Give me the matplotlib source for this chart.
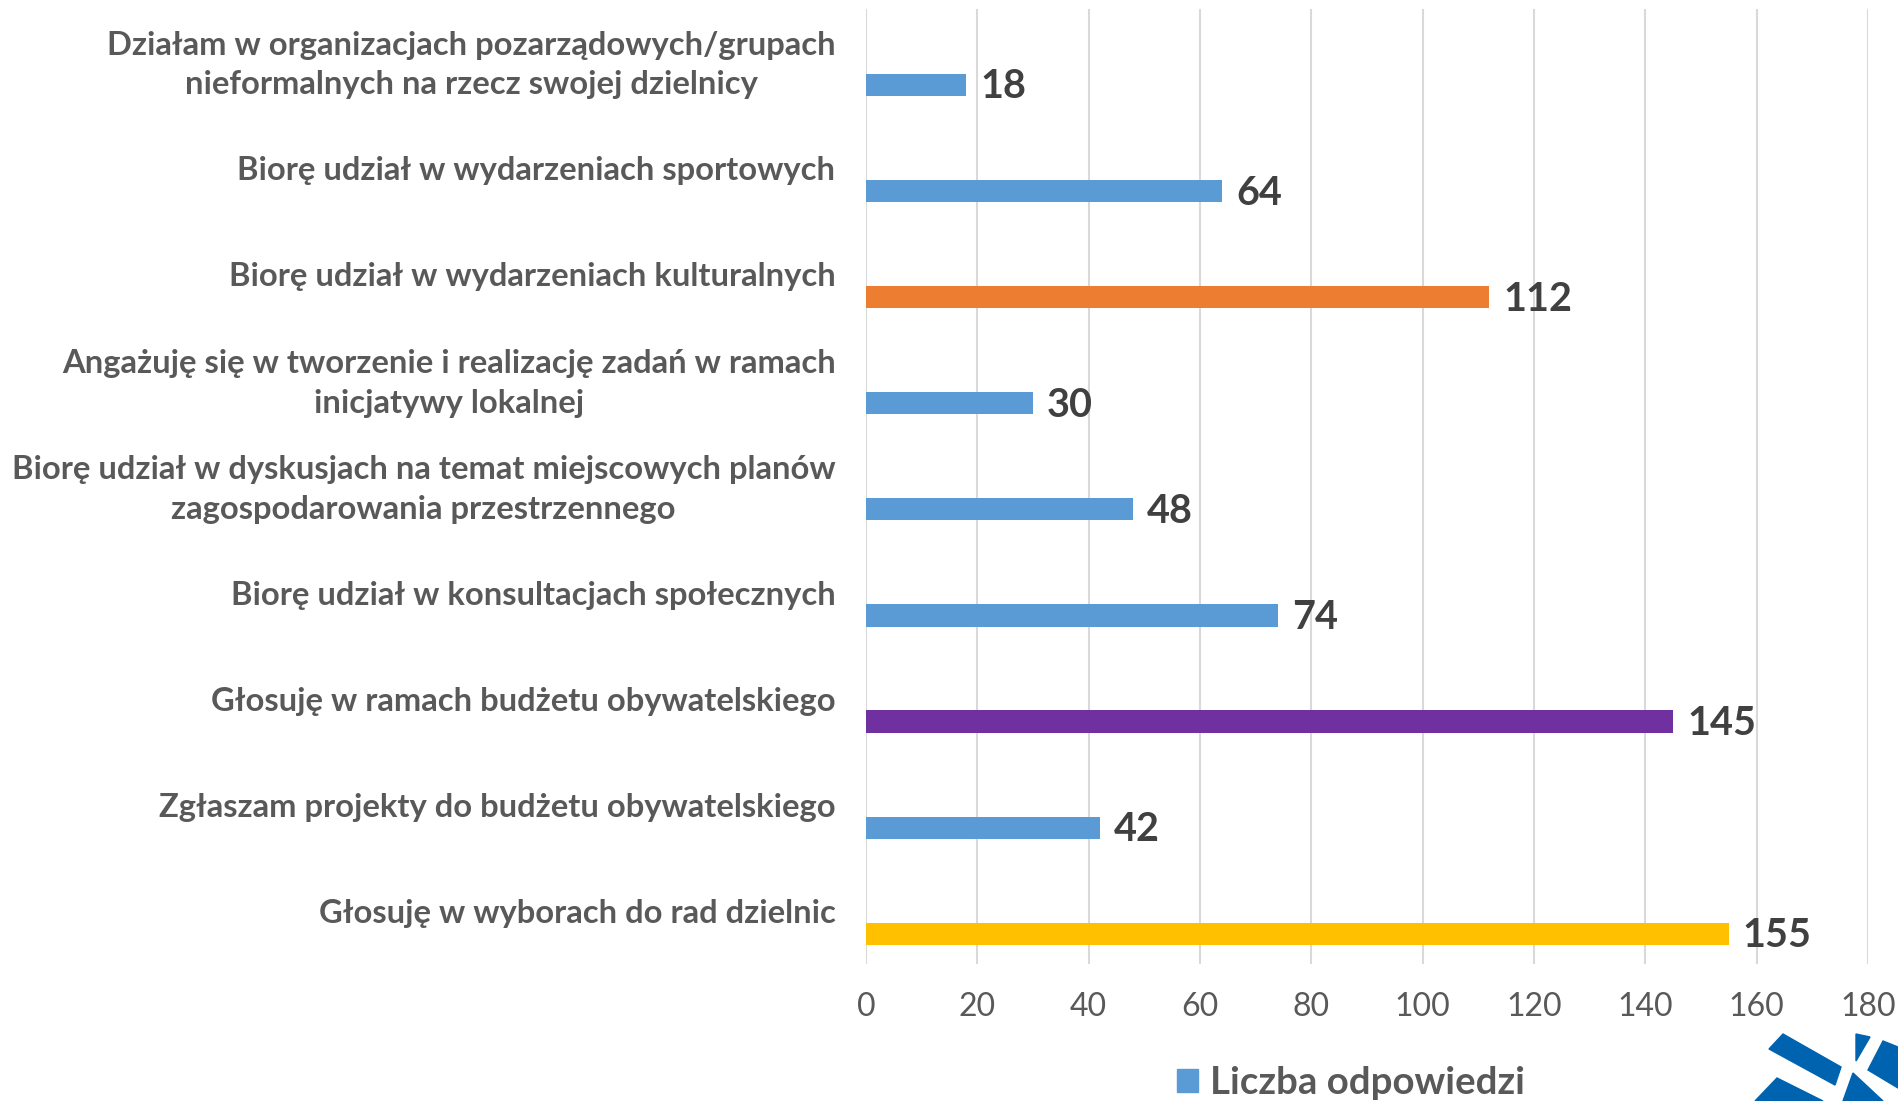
import matplotlib.pyplot as plt
from matplotlib.patches import Patch, Polygon
from matplotlib.transforms import ScaledTranslation

plt.rcParams['font.family'] = ['Lato', 'DejaVu Sans']

# categories, top to bottom
categories = [
    "Działam w organizacjach pozarządowych/grupach\nnieformalnych na rzecz swojej dzielnicy",
    "Biorę udział w wydarzeniach sportowych",
    "Biorę udział w wydarzeniach kulturalnych",
    "Angażuję się w tworzenie i realizację zadań w ramach\ninicjatywy lokalnej",
    "Biorę udział w dyskusjach na temat miejscowych planów\nzagospodarowania przestrzennego",
    "Biorę udział w konsultacjach społecznych",
    "Głosuję w ramach budżetu obywatelskiego",
    "Zgłaszam projekty do budżetu obywatelskiego",
    "Głosuję w wyborach do rad dzielnic",
]
values = [18, 64, 112, 30, 48, 74, 145, 42, 155]
bar_colors = ['#5B9BD5', '#5B9BD5', '#ED7D31', '#5B9BD5', '#5B9BD5',
              '#5B9BD5', '#7030A0', '#5B9BD5', '#FFC000']
series_name = "Liczba odpowiedzi"
x_ticks = [0, 20, 40, 60, 80, 100, 120, 140, 160, 180]

fig = plt.figure(figsize=(18.98, 11.01), dpi=100)
ax = fig.add_axes([866 / 1898, 1 - 964 / 1101, 1002 / 1898, 955 / 1101])

pos = list(range(len(categories)))
bar_pos = [p + 0.215 for p in pos]
bars = ax.barh(bar_pos, values, height=0.21, color=bar_colors, zorder=3)

# value labels
for b, v in zip(bars, values):
    ax.annotate(str(v), (b.get_width(), b.get_y() + b.get_height() / 2),
                xytext=(10, -1.5), textcoords='offset points',
                va='center', ha='left', fontsize=28.5, fontweight='bold',
                color='#404040')

ax.set_ylim(len(categories) - 0.5, -0.5)
ax.set_xlim(0, 180)
ax.tick_params(axis='y', length=0, pad=22)
ax.tick_params(axis='x', length=0, pad=20)
ax.set_xticks(x_ticks)
ax.set_xticklabels([str(t) for t in x_ticks], fontsize=23, color='#595959')
ax.set_yticks(pos)
ax.set_yticklabels(categories, fontsize=23.6, fontweight='bold', color='#595959')
# two-line labels sit a little higher in the original
shift_up = ScaledTranslation(0, 5 / 100, fig.dpi_scale_trans)
for lbl in ax.get_yticklabels():
    lbl.set_multialignment('center')
    lbl.set_linespacing(1.45)
    if '\n' in lbl.get_text():
        lbl.set_transform(lbl.get_transform() + shift_up)

ax.grid(axis='x', color='#D9D9D9', linewidth=1.5, zorder=0)
for s in ax.spines.values():
    s.set_visible(False)

fig.legend(handles=[Patch(color='#5B9BD5')], labels=[series_name],
           loc='center', bbox_to_anchor=(1351 / 1898, 1 - 1083 / 1101),
           frameon=False, handlelength=0.55, handleheight=0.55,
           handletextpad=0.3, prop={'weight': 'bold', 'size': 27.6},
           labelcolor='#595959')

# partial logo in the bottom right corner
logo = [
    [(1783, 1034), (1769, 1049), (1835, 1085), (1841, 1067)],
    [(1856, 1034), (1870, 1037), (1856, 1061)],
    [(1883, 1041), (1898, 1047), (1898, 1088), (1868, 1070)],
    [(1777, 1078), (1755, 1101), (1823, 1101)],
    [(1853, 1073), (1843, 1101), (1883, 1101)],
]
for shape in logo:
    fig.patches.append(Polygon([(x / 1898, 1 - y / 1101) for x, y in shape],
                               closed=True, color='#0063AF',
                               transform=fig.transFigure, figure=fig))

fig.savefig('out.png', dpi=100)
